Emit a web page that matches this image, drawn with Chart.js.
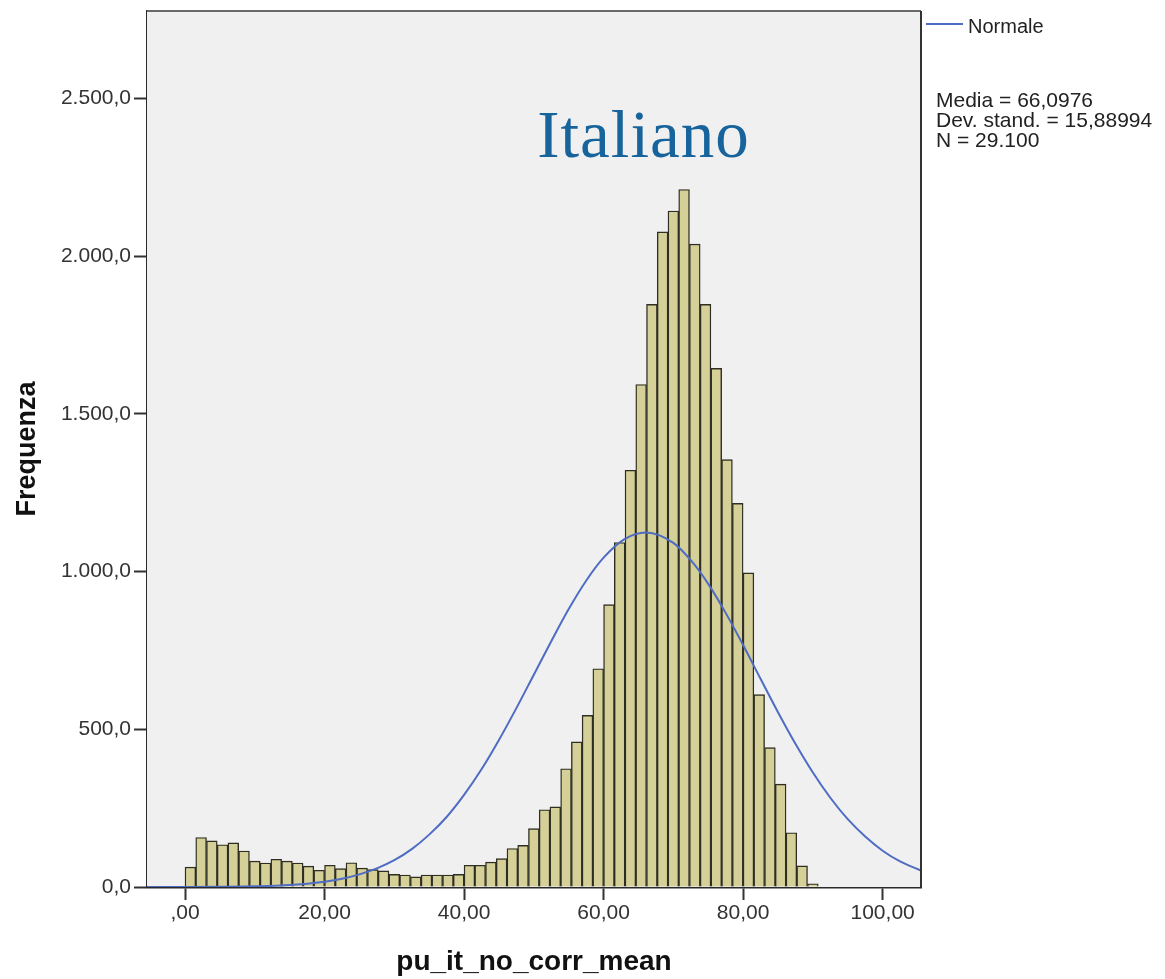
<!DOCTYPE html>
<html>
<head>
<meta charset="utf-8">
<script src="https://cdn.jsdelivr.net/npm/chart.js@4/dist/chart.umd.min.js"></script>
<style>
  body { margin: 0; background: #ffffff; }
  canvas { display: block; }
</style>
</head>
<body>
<canvas id="myChart" width="1165" height="979"></canvas>
<script>
// Istogramma: frequenze per classe (larghezza classe 20/13, primo bordo a 0)
const binWidth = 20 / 13;
const frequenze = [
    63, 157, 146, 134, 140, 114, 82, 76, 88, 82,
    76, 66, 53, 69, 58, 77, 60, 55, 51, 40,
    38, 32, 38, 38, 38, 40, 69, 69, 79, 90,
    122, 132, 185, 245, 254, 375, 460, 544, 692, 895,
    1092, 1321, 1593, 1847, 2077, 2143, 2211, 2038, 1847, 1644,
    1355, 1216, 996, 610, 442, 326, 172, 67, 10
];

// Curva normale
const normaleX = [-5.5, 0, 5, 10, 15, 20, 22.5, 25, 27.5, 30, 32.5, 35, 37.5, 40, 42.5, 45, 47.5, 50, 52.5, 55, 57.5, 60, 63, 66.1, 70, 72.5, 75, 77.5, 80, 82.5, 85, 87.5, 90, 92.5, 95, 97.5, 100, 102.5, 105.5];
const normaleY = [0, 0.2, 0.7, 2, 6, 17, 26, 40, 59, 85, 120, 166, 222, 292, 373, 466, 567, 673, 779, 881, 971, 1044, 1103, 1124, 1091, 1036, 961, 869, 767, 660, 554, 454, 363, 283, 215, 160, 115, 81, 52];

// Assi
const xTicks = [0, 20, 40, 60, 80, 100];
const xTickLabels = [',00', '20,00', '40,00', '60,00', '80,00', '100,00'];
const yTicks = [0, 500, 1000, 1500, 2000, 2500];
const yTickLabels = ['0,0', '500,0', '1.000,0', '1.500,0', '2.000,0', '2.500,0'];

const statLines = ['Media = 66,0976', 'Dev. stand. = 15,88994', 'N = 29.100'];
const titolo = 'Italiano';

const font = '"Liberation Sans", Arial, sans-serif';
const coloreCurva = '#4f6cc4';

const barData = frequenze.map((f, i) => ({ x: (i + 0.5) * binWidth, y: f }));
const curveData = normaleX.map((x, i) => ({ x: x, y: normaleY[i] }));

// Sfondo dell'area del grafico, cornice, legenda e testi
const decorazioni = {
    id: 'decorazioni',
    beforeDatasetsDraw(chart) {
        const { ctx, chartArea: a } = chart;
        ctx.save();
        ctx.fillStyle = '#f0f0f0';
        ctx.fillRect(a.left, a.top, a.right - a.left, a.bottom - a.top);
        ctx.restore();
    },
    afterDraw(chart) {
        const { ctx, chartArea: a } = chart;
        ctx.save();
        // cornice superiore e destra
        ctx.lineWidth = 2;
        ctx.strokeStyle = '#6a6a6a';
        ctx.beginPath();
        ctx.moveTo(a.left, a.top);
        ctx.lineTo(a.right, a.top);
        ctx.stroke();
        ctx.strokeStyle = '#333';
        ctx.beginPath();
        ctx.moveTo(a.right, a.top);
        ctx.lineTo(a.right, a.bottom);
        ctx.stroke();

        // legenda
        const ds = chart.data.datasets[0];
        ctx.strokeStyle = ds.borderColor;
        ctx.lineWidth = 2;
        ctx.beginPath();
        ctx.moveTo(a.right + 5, 24);
        ctx.lineTo(a.right + 42, 24);
        ctx.stroke();
        ctx.fillStyle = '#222';
        ctx.font = '20px ' + font;
        ctx.textBaseline = 'middle';
        ctx.fillText(ds.label, a.right + 47, 27);

        // statistiche
        ctx.textBaseline = 'alphabetic';
        ctx.font = '21px ' + font;
        statLines.forEach((t, i) => ctx.fillText(t, a.right + 15, 107 + i * 20));

        // titolo
        ctx.fillStyle = '#17639c';
        ctx.font = '67px "Liberation Serif", "Times New Roman", serif';
        ctx.letterSpacing = '1px';
        ctx.textAlign = 'center';
        ctx.fillText(titolo, 643.5, 157);
        ctx.restore();
    }
};

const ctx = document.getElementById('myChart').getContext('2d');
const myChart = new Chart(ctx, {
    type: 'bar',
    data: {
        datasets: [{
            type: 'line',
            label: 'Normale',
            data: curveData,
            borderColor: coloreCurva,
            borderWidth: 2,
            pointRadius: 0,
            cubicInterpolationMode: 'monotone',
            fill: false,
            order: 0
        }, {
            type: 'bar',
            label: 'Frequenza',
            data: barData,
            backgroundColor: '#d5cf98',
            borderColor: '#2e2e22',
            borderWidth: 1.4,
            barPercentage: 1,
            categoryPercentage: 1,
            grouped: false,
            order: 1
        }]
    },
    options: {
        responsive: false,
        animation: false,
        events: [],
        layout: { padding: { top: 11, right: 244, left: 0, bottom: 0 } },
        plugins: {
            legend: { display: false },
            tooltip: { enabled: false }
        },
        scales: {
            x: {
                type: 'linear',
                min: -5.45,
                max: 105.5,
                offset: false,
                afterBuildTicks: scale => { scale.ticks = xTicks.map(v => ({ value: v })); },
                afterFit: scale => {
                    scale.height = 92;
                    scale.paddingLeft = 0;
                    scale.paddingRight = 0;
                },
                ticks: {
                    callback: (value) => xTickLabels[xTicks.indexOf(value)],
                    font: { family: font, size: 21 },
                    color: '#333',
                    padding: 1,
                    maxRotation: 0
                },
                grid: { drawOnChartArea: false, offset: false, tickLength: 13, color: '#333', tickWidth: 2 },
                border: { color: '#2a2a2a', width: 2.5 },
                title: {
                    display: true,
                    text: 'pu_it_no_corr_mean',
                    color: '#111',
                    font: { family: font, size: 28, weight: 'bold' },
                    padding: { top: 0, bottom: 0 }
                }
            },
            y: {
                min: 0,
                max: 2777,
                afterBuildTicks: scale => { scale.ticks = yTicks.map(v => ({ value: v })); },
                afterFit: scale => {
                    scale.width = 147;
                    scale.paddingTop = 0;
                    scale.paddingBottom = 0;
                },
                ticks: {
                    callback: (value) => yTickLabels[yTicks.indexOf(value)],
                    font: { family: font, size: 21 },
                    color: '#333',
                    padding: 3
                },
                grid: { drawOnChartArea: false, tickLength: 13, color: '#333', tickWidth: 2 },
                border: { color: '#2a2a2a', width: 2.5 },
                title: {
                    display: true,
                    text: 'Frequenza',
                    color: '#111',
                    font: { family: font, size: 27, weight: 'bold' },
                    padding: { top: 11, bottom: 0 }
                }
            }
        }
    },
    plugins: [decorazioni]
});
</script>
</body>
</html>
